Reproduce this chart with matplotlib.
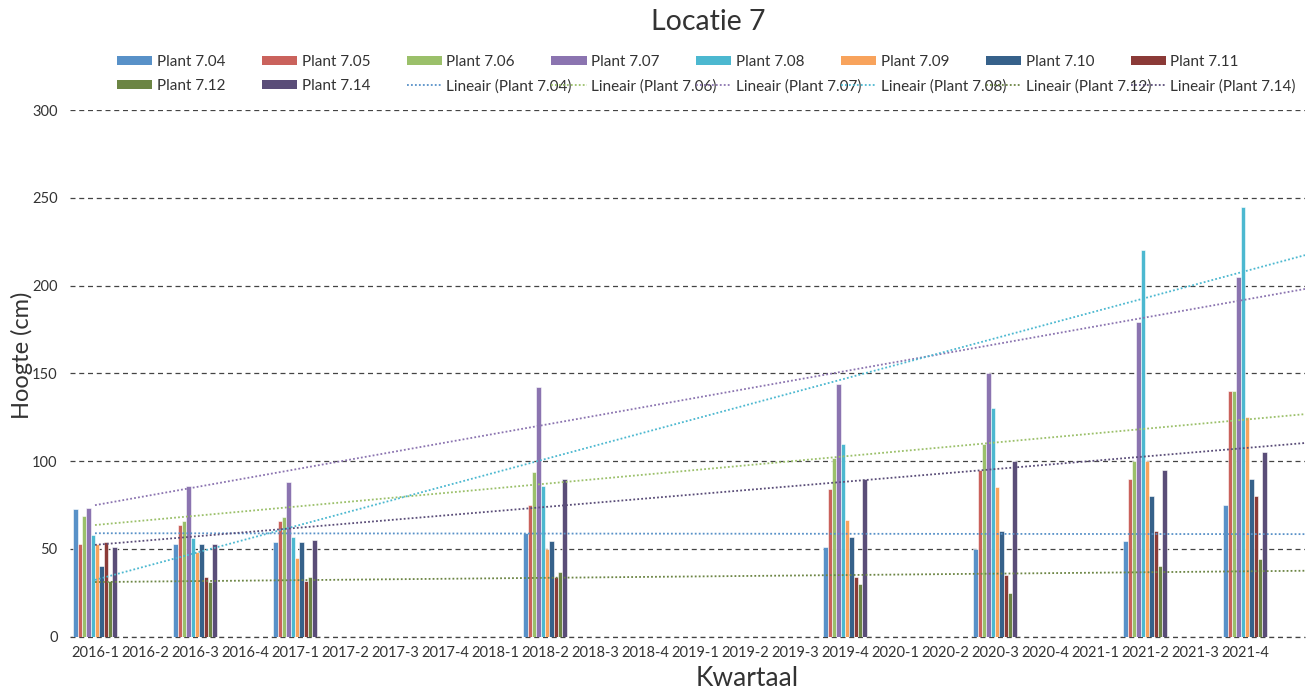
import numpy as np
import matplotlib.pyplot as plt
from matplotlib.patches import Patch
from matplotlib.lines import Line2D

plt.rcParams['font.family'] = ['Lato', 'DejaVu Sans']

# all quarters on the category axis
quarters = [f"{y}-{q}" for y in range(2016, 2022) for q in range(1, 5)]
# quarters that were actually measured
measured = ["2016-1", "2016-3", "2017-1", "2018-2", "2019-4", "2020-3", "2021-2", "2021-4"]

plants = ["Plant 7.04", "Plant 7.05", "Plant 7.06", "Plant 7.07", "Plant 7.08",
          "Plant 7.09", "Plant 7.10", "Plant 7.11", "Plant 7.12", "Plant 7.14"]

h_704 = [73, 53, 54, 59, 51, 50, 54.5, 75]
h_705 = [53, 63.5, 66, 75, 84, 95, 90, 140]
h_706 = [69, 66, 68, 94, 102, 110, 100, 140]
h_707 = [73.5, 86, 88, 142, 144, 150, 179, 205]
h_708 = [58, 56, 57, 86, 110, 130, 220, 245]
h_709 = [53, 48, 45, 50, 66.5, 85, 100, 125]
h_710 = [40, 53, 54, 54.5, 57, 60, 80, 90]
h_711 = [54, 34, 32, 34, 34, 35, 60, 80]
h_712 = [32, 31, 34, 37, 30, 25, 40, 44.5]
h_714 = [51, 53, 55, 90, 90, 100, 95, 105]

heights = [h_704, h_705, h_706, h_707, h_708, h_709, h_710, h_711, h_712, h_714]
trend_plants = ["Plant 7.04", "Plant 7.06", "Plant 7.07", "Plant 7.08", "Plant 7.12", "Plant 7.14"]

colors = ["#5891C8", "#CA625C", "#9BC06A", "#8B74B0", "#4CB8D0",
          "#F8A35C", "#36618A", "#8B3A37", "#6C8544", "#5A4D78"]

W, H = 1316, 694
fig = plt.figure(figsize=(W / 100, H / 100), dpi=100)
ax = fig.add_axes([70 / W, 1 - 636.7 / H, 1235 / W, 526.7 / H])

xpos = np.array([quarters.index(q) for q in measured])
bw = 0.087
x_right = 24.2

for i, (name, vals) in enumerate(zip(plants, heights)):
    ax.bar(xpos + (i - 4.5) * bw, vals, width=bw, color=colors[i],
           edgecolor="white", linewidth=0.4, zorder=2)

# linear trendlines on the category index, extended to the right edge
xt = np.array([0, x_right])
for name in trend_plants:
    i = plants.index(name)
    k, b = np.polyfit(xpos, heights[i], 1)
    ax.plot(xt, k * xt + b, linestyle=(0, (1, 1.2)), color=colors[i], lw=1.3, zorder=3)

ax.set_xlim(-0.5, x_right)
ax.set_ylim(0, 300)
ax.set_yticks(np.arange(0, 301, 50))
ax.set_xticks(range(len(quarters)))
ax.set_xticklabels(quarters, fontsize=10.5, color="#333333")
ax.tick_params(axis="y", labelsize=10.5, colors="#333333", length=0, pad=9)
ax.tick_params(axis="x", length=0, pad=7)
ax.grid(axis="y", linestyle=(0, (4, 3)), color="#444444", lw=0.9, zorder=0)
ax.axhline(0, linestyle=(0, (4, 3)), color="#444444", lw=0.9, zorder=1, clip_on=False)
for s in ax.spines.values():
    s.set_visible(False)

fig.text(22 / W, 1 - 355 / H, "Hoogte (cm)", rotation=90, ha="center", va="center",
         fontsize=17, color="#333333")
fig.text(747 / W, 1 - 679 / H, "Kwartaal", ha="center", va="center",
         fontsize=19, color="#333333")
fig.text(708 / W, 1 - 22 / H, "Locatie 7", ha="center", va="center",
         fontsize=20.5, color="#333333")

# legend laid out like Excel: 8 fixed columns, two rows
bar_handles = [Patch(facecolor=c, edgecolor="none") for c in colors]
trend_handles = [Line2D([], [], color=colors[plants.index(n)], lw=1.3, linestyle=(0, (1, 1.2)))
                 for n in trend_plants]
items = list(zip(bar_handles, plants)) + \
        list(zip(trend_handles, [f"Lineair ({n})" for n in trend_plants]))
row1, row2 = items[:8], items[8:]
for c in range(8):
    x0 = (117 + c * 144.8) / W
    leg = fig.legend([row1[c][0], row2[c][0]], [row1[c][1], row2[c][1]],
                     loc="upper left", bbox_to_anchor=(x0, 1 - 55 / H), frameon=False,
                     fontsize=11, handlelength=2.3, handleheight=0.45, handletextpad=0.3,
                     labelspacing=0.65, borderaxespad=0, borderpad=0)
    for t in leg.get_texts():
        t.set_color("#333333")

fig.savefig("out.png", dpi=100)
